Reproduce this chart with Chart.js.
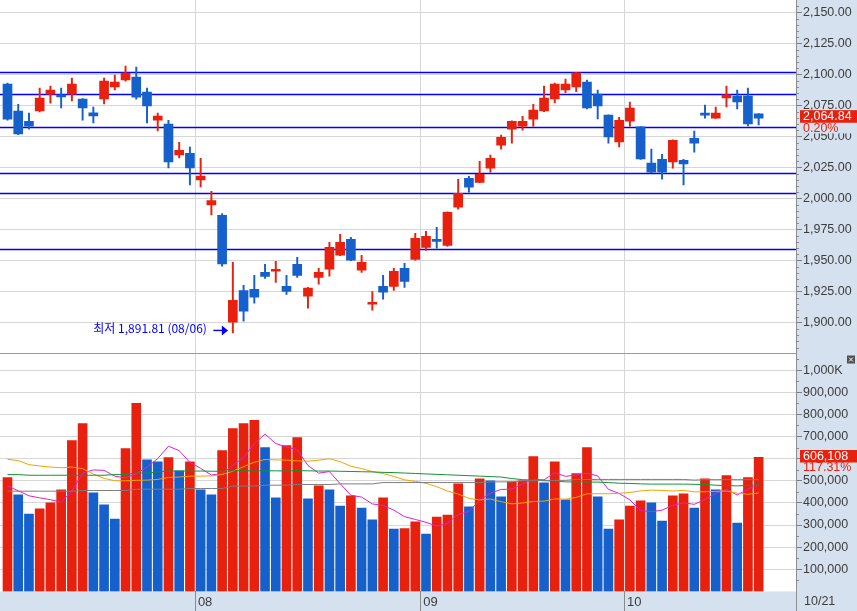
<!DOCTYPE html>
<html><head><meta charset="utf-8">
<script src="https://cdn.jsdelivr.net/npm/chart.js"></script>
<style>html,body{margin:0;padding:0;background:#fff;overflow:hidden}#wrap{position:relative;width:857px;height:611px}canvas{display:block}</style>
</head><body><div id="wrap"><canvas id="c" width="857" height="611"></canvas></div>
<script>
// ---------------- data ----------------
const dates = ['07/08','07/09','07/10','07/11','07/12','07/15','07/16','07/17','07/18','07/19','07/22','07/23','07/24','07/25','07/26','07/29','07/30','07/31',
'08/01','08/02','08/05','08/06','08/07','08/08','08/09','08/12','08/13','08/14','08/16','08/19','08/20','08/21','08/22','08/23','08/26','08/27','08/28','08/29','08/30',
'09/02','09/03','09/04','09/05','09/06','09/09','09/10','09/11','09/16','09/17','09/18','09/19','09/20','09/23','09/24','09/25','09/26','09/27','09/30',
'10/01','10/02','10/04','10/07','10/08','10/10','10/11','10/14','10/15','10/16','10/17','10/18','10/21'];
const open  = [2092.2,2070.4,2062.3,2070.6,2084.1,2083.5,2084.1,2080.1,2069.0,2080.3,2090.0,2095.6,2097.8,2085.7,2063.1,2059.9,2035.2,2036.5,
2015.0,1994.8,1986.5,1900.5,1926.0,1926.9,1940.6,1941.6,1929.3,1947.0,1921.5,1936.5,1943.2,1954.5,1967.2,1942.4,1915.0,1929.3,1929.3,1943.8,1951.0,
1960.7,1967.2,1962.3,1993.0,2016.4,2013.1,2024.4,2043.0,2055.9,2058.3,2064.0,2070.6,2080.3,2087.6,2090.0,2093.8,2084.1,2067.2,2045.6,
2062.3,2057.7,2028.5,2031.6,2029.5,2030.9,2048.6,2068.8,2064.8,2081.1,2082.5,2082.5,2068.2];
const high  = [2093.0,2076.0,2068.8,2089.0,2090.6,2089.0,2097.0,2080.5,2073.6,2097.0,2099.4,2106.7,2105.9,2089.0,2068.8,2063.1,2045.4,2041.4,
2032.5,2005.9,1987.9,1948.6,1930.1,1938.1,1947.0,1949.5,1938.1,1952.6,1928.5,1943.8,1964.7,1971.2,1968.8,1954.3,1925.2,1938.1,1943.8,1947.8,1972.0,
1973.6,1976.9,1989.3,2015.6,2018.0,2030.1,2035.0,2051.1,2062.6,2066.3,2076.0,2090.6,2093.0,2096.2,2101.6,2095.4,2087.3,2067.5,2065.5,
2077.7,2058.0,2039.8,2035.7,2047.3,2031.7,2054.3,2075.2,2073.6,2090.6,2087.3,2089.0,2068.4];
const low   = [2063.1,2051.5,2055.9,2069.8,2076.9,2073.1,2078.7,2063.1,2061.0,2076.3,2087.6,2094.6,2080.1,2061.0,2054.5,2024.7,2032.7,2011.0,
2009.4,1986.8,1945.6,1891.81,1901.3,1915.8,1935.7,1932.5,1922.8,1936.5,1911.8,1931.1,1937.6,1954.0,1950.0,1940.6,1910.2,1919.0,1926.0,1928.5,1950.5,
1958.3,1960.0,1961.5,1991.5,2005.1,2012.8,2021.2,2039.8,2044.6,2055.1,2058.3,2070.0,2077.1,2085.2,2086.0,2072.3,2064.2,2044.6,2041.6,
2058.3,2031.5,2020.8,2015.6,2024.4,2011.0,2037.3,2064.8,2064.5,2073.9,2072.3,2058.5,2059.4];
const close = [2064.0,2052.1,2058.3,2080.9,2087.3,2081.9,2092.2,2073.1,2066.6,2094.6,2093.8,2101.0,2081.7,2074.7,2066.4,2029.5,2038.9,2024.7,
2018.2,1998.4,1947.3,1918.0,1909.4,1920.6,1937.3,1943.0,1925.2,1938.1,1927.9,1940.6,1960.7,1964.7,1950.5,1948.6,1916.4,1924.7,1941.4,1933.3,1968.0,
1969.6,1965.6,1988.9,2004.3,2009.2,2019.6,2032.5,2049.4,2062.3,2062.3,2071.2,2080.9,2092.2,2092.2,2101.3,2073.1,2074.7,2049.7,2063.1,
2072.8,2031.9,2021.2,2021.2,2047.0,2027.9,2044.6,2067.2,2068.8,2083.5,2077.9,2060.2,2064.84];
const volume = [514000,436000,350000,373000,400000,459000,682000,759000,445000,391000,327000,645000,850000,595000,586000,605000,545000,586000,
459000,436000,636000,736000,759000,773000,650000,423000,659000,695000,418000,477000,459000,386000,432000,377000,323000,423000,282000,284000,314000,
259000,336000,345000,486000,382000,509000,500000,427000,495000,500000,609000,491000,586000,414000,532000,650000,427000,282000,323000,
386000,409000,400000,318000,432000,441000,377000,509000,459000,523000,309000,514000,606108];
const prevVolume = 480000;
const ma5 = [476000,455000,432000,423000,414600,403600,452800,534600,549000,547200,520800,513400,531600,561600,600600,656200,636200,583400,
556200,526200,532400,570600,605200,668000,710800,668200,652800,640000,569000,534400,541600,487000,434400,426200,395400,388200,367400,337800,325200,
312400,295000,307600,348000,361600,411600,444400,460800,462600,486200,506200,504400,536200,520000,526400,534600,521800,461000,442800,
413600,365400,360000,367200,389000,400000,393600,415400,443600,461800,435400,462800,482200];
const ma20 = [597000,591000,573000,567000,562000,559000,562000,555000,530000,511000,500000,500000,502000,503000,506000,515000,517000,521000,
521000,522200,528300,543300,563700,583700,596200,594400,593300,590100,588700,593000,599600,586700,565800,554900,541700,532600,519500,504400,497100,
488300,473300,453700,440100,420500,413500,417300,405700,395700,399800,406400,408000,418000,417100,424900,441200,441400,441400,443400,
447000,454500,457700,456300,453600,456600,450000,450400,452000,453400,443900,439100,444900];
const ma60 = [528000,528000,525000,525000,525000,525000,525000,525000,525000,525000,528000,528000,535000,535000,540000,544000,544000,544000,
544000,543000,543000,545000,545000,545000,545000,545000,544000,546000,545000,544000,544000,543000,542000,541000,540000,538000,537000,535000,533000,
531000,529000,527000,525000,523000,521000,519000,517000,510000,505000,503000,500000,499000,495000,495000,494000,494000,492000,489000,
488000,486000,485000,485000,485000,485000,484000,483000,480000,478000,477000,479000,482000];
const ma120 = [453000,453000,453000,453000,453000,453000,453000,456000,456000,456000,456000,456000,462000,462000,462000,462000,462000,465000,
465000,465000,465000,476000,476000,476000,480000,480000,480000,483000,483000,483000,483000,486000,486000,486000,486000,492000,492000,492000,492000,
492000,492000,492000,492000,492000,492000,495000,495000,495000,500000,500000,502000,502000,502000,506000,506000,506000,506000,506000,
506000,506000,506000,506000,506000,506000,503000,505000,505000,505000,505000,505000,505000];
const levels = [2101.6, 2084.1, 2058.0, 2020.9, 2004.8, 1959.6];
const priceTicks = [1900,1925,1950,1975,2000,2025,2050,2075,2100,2125,2150];
const volumeTicks = [100000,200000,300000,400000,500000,600000,700000,800000,900000,1000000];
const lowNoteIndex = 21;
const lowNoteText = '최저 1,891.81 (08/06)';
const lastChangeText = '0.20%';
const lastVolumeRatioText = '117.31%';

// ---------------- styles ----------------
const RED = '#e8200e', BLUE = '#1660cc', AXIS_BG = '#d6e1ef';
const FONT = "'Liberation Sans Narrow','Liberation Sans',Arial,sans-serif";
const idx = dates.map((_, i) => i);
const candleColor = idx.map(i => close[i] >= open[i] ? RED : BLUE);
const volColor = volume.map((v, i) => v >= (i ? volume[i - 1] : prevVolume) ? RED : BLUE);
const monthStarts = idx.filter(i => i > 0 && dates[i].slice(0, 2) !== dates[i - 1].slice(0, 2));
const fmt2 = v => v.toLocaleString('en-US', {minimumFractionDigits: 2, maximumFractionDigits: 2});

const decor = {
  id: 'decor',
  beforeDraw(chart) {
    const {ctx, chartArea: a, width, height} = chart;
    ctx.save();
    ctx.fillStyle = '#fff'; ctx.fillRect(0, 0, width, height);
    ctx.fillStyle = AXIS_BG;
    ctx.fillRect(a.right, 0, width - a.right, height);
    ctx.fillRect(0, a.bottom, a.right, height - a.bottom);
    ctx.restore();
  },
  beforeDatasetsDraw(chart) {
    const {ctx, chartArea: a} = chart, y = chart.scales.y;
    ctx.save();
    ctx.strokeStyle = '#0000ff'; ctx.lineWidth = 1.3;
    levels.forEach(l => {
      const py = Math.round(y.getPixelForValue(l)) + 0.5;
      ctx.beginPath(); ctx.moveTo(a.left, py); ctx.lineTo(a.right, py); ctx.stroke();
    });
    ctx.restore();
  },
  afterDraw(chart) {
    const {ctx, chartArea: a, width, height} = chart;
    const x = chart.scales.x, y = chart.scales.y, yv = chart.scales.yv;
    ctx.save();
    // separator between panes
    ctx.strokeStyle = '#9a9a9a'; ctx.lineWidth = 1;
    const sy = Math.round(yv.top) + 0.5;
    ctx.beginPath(); ctx.moveTo(0, sy); ctx.lineTo(a.right, sy); ctx.stroke();
    // axis line through bottom strip
    ctx.strokeStyle = '#8f8f8f';
    ctx.beginPath(); ctx.moveTo(Math.round(a.right) + 0.5, a.bottom); ctx.lineTo(Math.round(a.right) + 0.5, height); ctx.stroke();
    // minor ticks
    ctx.strokeStyle = '#8a8a8a';
    for (let v = 1880; v <= 2155; v += 5) {
      if (v % 25 === 0) continue;
      const py = Math.round(y.getPixelForValue(v)) + 0.5;
      if (py < y.top || py > y.bottom) continue;
      ctx.beginPath(); ctx.moveTo(a.right, py); ctx.lineTo(a.right + 3, py); ctx.stroke();
    }
    for (let v = 50000; v <= 1050000; v += 100000) {
      const py = Math.round(yv.getPixelForValue(v)) + 0.5;
      ctx.beginPath(); ctx.moveTo(a.right, py); ctx.lineTo(a.right + 3, py); ctx.stroke();
    }
    // last price label
    const last = close.length - 1;
    const pp = y.getPixelForValue(close[last]);
    ctx.fillStyle = RED; ctx.fillRect(a.right + 4, pp - 7.9, width - a.right - 4, 12.7);
    ctx.fillStyle = AXIS_BG; ctx.fillRect(a.right + 4, pp + 4.8, width - a.right - 4, 10.5);
    ctx.font = '12.5px ' + FONT; ctx.textBaseline = 'middle'; ctx.textAlign = 'left';
    ctx.fillStyle = '#fff'; ctx.fillText(fmt2(close[last]), a.right + 7, pp - 1.4);
    ctx.fillStyle = RED; ctx.fillText(lastChangeText, a.right + 7, pp + 10);
    // last volume label
    const pv = yv.getPixelForValue(volume[last]);
    ctx.fillStyle = RED; ctx.fillRect(a.right + 4, pv - 7.3, width - a.right - 4, 12.7);
    ctx.fillStyle = AXIS_BG; ctx.fillRect(a.right + 4, pv + 5.4, width - a.right - 4, 10.5);
    ctx.fillStyle = '#fff'; ctx.fillText(volume[last].toLocaleString('en-US'), a.right + 7, pv - 0.8);
    ctx.fillStyle = RED; ctx.fillText(lastVolumeRatioText, a.right + 7, pv + 10.6);
    // last date label
    ctx.fillStyle = '#3c3c3c'; ctx.fillText(dates[last], a.right + 8, a.bottom + 10.5);
    // small icon in volume pane corner
    ctx.fillStyle = '#505050'; ctx.fillRect(width - 10, yv.top + 3, 8, 8);
    ctx.strokeStyle = '#fff'; ctx.lineWidth = 1;
    ctx.beginPath(); ctx.moveTo(width - 8, yv.top + 5); ctx.lineTo(width - 4, yv.top + 9);
    ctx.moveTo(width - 4, yv.top + 5); ctx.lineTo(width - 8, yv.top + 9); ctx.stroke();
    // lowest-price note
    const xc = x.getPixelForValue(lowNoteIndex);
    const ly = y.getPixelForValue(low[lowNoteIndex]);
    ctx.fillStyle = '#0000ff'; ctx.strokeStyle = '#0000ff';
    ctx.font = "12px 'Noto Sans CJK KR', sans-serif"; ctx.textAlign = 'right';
    ctx.fillText(lowNoteText, xc - 26, ly - 4);
    ctx.lineWidth = 1.4;
    ctx.beginPath(); ctx.moveTo(xc - 19.5, ly - 2.5); ctx.lineTo(xc - 10.5, ly - 2.5); ctx.stroke();
    ctx.beginPath(); ctx.moveTo(xc - 11, ly - 7.5); ctx.lineTo(xc - 4.8, ly - 2.5); ctx.lineTo(xc - 11, ly + 2.5); ctx.closePath(); ctx.fill();
    ctx.restore();
  }
};

const tickFont = {family: FONT, size: 12.5};
const line = (data, color) => ({type: 'line', data: idx.map(i => ({x: i, y: data[i]})), yAxisID: 'yv',
  borderColor: color, borderWidth: 1, pointRadius: 0, tension: 0, order: 0});

new Chart(document.getElementById('c'), {
  type: 'bar',
  data: {datasets: [
    line(ma120, '#7d7d7d'),
    line(ma60, '#129436'),
    line(ma20, '#f0a500'),
    line(ma5, '#e020d0'),
    {type: 'bar', data: idx.map(i => ({x: i, y: [Math.min(open[i], close[i]), Math.max(open[i], close[i])]})), yAxisID: 'y',
      backgroundColor: candleColor, barThickness: 9, minBarLength: 1.6, grouped: false, order: 1},
    {type: 'bar', data: idx.map(i => ({x: i, y: [low[i], high[i]]})), yAxisID: 'y',
      backgroundColor: candleColor, barThickness: 1.3, grouped: false, order: 2},
    {type: 'bar', data: idx.map(i => ({x: i, y: volume[i]})), yAxisID: 'yv',
      backgroundColor: volColor, barThickness: 9, grouped: false, order: 3}
  ]},
  options: {
    responsive: false, animation: false, devicePixelRatio: 1, events: [],
    layout: {padding: 0},
    plugins: {legend: {display: false}, tooltip: {enabled: false}},
    scales: {
      x: {type: 'linear', position: 'bottom', min: -0.699, max: 73.48, offset: false,
        afterBuildTicks: s => { s.ticks = monthStarts.map(i => ({value: i - 0.5})); },
        afterFit: s => { s.height = 19.6; s.paddingLeft = 0; s.paddingRight = 0; },
        grid: {offset: false, color: '#d6d6d6', lineWidth: 1, drawTicks: true, tickLength: 20, tickColor: '#8a8a8a'},
        border: {display: false},
        ticks: {align: 'start', padding: -17, color: '#3c3c3c', font: {family: FONT, size: 13}, maxRotation: 0, autoSkip: false,
          callback: (v, k) => '\u2009' + dates[monthStarts[k]].slice(0, 2)}
      },
      y: {type: 'linear', position: 'right', stack: 'panes', stackWeight: 352.5, min: 1876.05, max: 2159.92,
        afterBuildTicks: s => { s.ticks = priceTicks.map(v => ({value: v})); },
        afterFit: s => { s.width = 61; s.paddingTop = 0; s.paddingBottom = 0; },
        grid: {color: '#d6d6d6', lineWidth: 1, drawTicks: true, tickLength: 6, tickColor: '#808080'},
        border: {display: true, color: '#8f8f8f', width: 1},
        ticks: {padding: 1, autoSkip: false, color: '#3c3c3c', font: tickFont, callback: v => fmt2(v)}
      },
      yv: {type: 'linear', position: 'right', stack: 'panes', stackWeight: 238.9, min: 0, max: 1079800,
        afterBuildTicks: s => { s.ticks = volumeTicks.map(v => ({value: v})); },
        afterFit: s => { s.width = 61; s.paddingTop = 0; s.paddingBottom = 0; },
        grid: {color: '#d6d6d6', lineWidth: 1, drawTicks: true, tickLength: 6, tickColor: '#808080'},
        border: {display: true, color: '#8f8f8f', width: 1},
        ticks: {padding: 1, autoSkip: false, color: '#3c3c3c', font: tickFont,
          callback: v => v >= 1000000 ? (v / 1000).toLocaleString('en-US') + 'K' : v.toLocaleString('en-US')}
      }
    }
  },
  plugins: [decor]
});
</script>
</body></html>
